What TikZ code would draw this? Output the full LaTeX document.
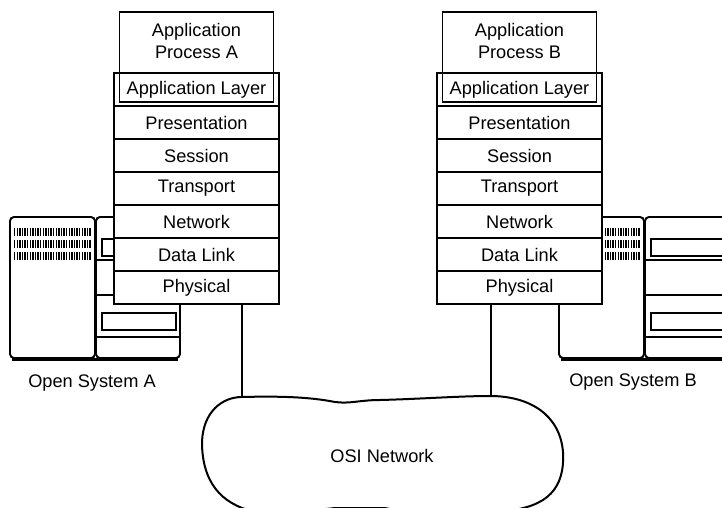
\documentclass[tikz,border=0pt]{standalone}
\usepackage{fontspec}
\setmainfont{Liberation Sans}
\usetikzlibrary{positioning}

\tikzset{
  layer/.style={draw, fill=white, minimum width=82.5pt, minimum height=16.5pt, inner sep=0pt, outer sep=0pt},
  procbox/.style={draw, minimum width=77pt, minimum height=45pt, inner sep=0pt, outer sep=0pt},
  vent/.style={line width=4pt, dash pattern=on 0.7pt off 0.6pt},
}

\begin{document}
\begin{tikzpicture}[x=0.5pt, y=-0.5pt, line width=0.95pt, every node/.style={font=\fontsize{9.1}{11}\selectfont}]

\useasboundingbox (0,0) rectangle (722,508);

% the two cabinets, B is the same box moved right
\foreach \dx in {0,549} {
\begin{scope}[shift={(\dx,0)}]
\draw [rounded corners=2pt] (10,217) rectangle (95,358);
\draw [rounded corners=2pt] (96,217) rectangle (180,358);
\draw [line width=1.6pt] (12,359.5) -- (178,359.5);
\draw [vent] (14,232) -- (91,232);
\draw [vent] (14,244) -- (91,244);
\draw [vent] (14,256) -- (91,256);
\draw (96,260) -- (180,260);
\draw (96,295) -- (180,295);
\draw (96,337) -- (180,337);
\draw (102,239) rectangle (176,256); %drive slot
\draw (102,313) rectangle (176,330); %drive slot
\end{scope}
}

% stack A
\node [layer] (applA) at (196.5,89.5) {Application Layer};
\node [layer, below=0pt of applA] (presA) {Presentation};
\node [layer, below=0pt of presA] (sessA) {Session};
\node [layer, below=0pt of sessA] (tranA) {Transport};
\node [layer, below=0pt of tranA] (netwA) {Network};
\node [layer, below=0pt of netwA] (dlinkA) {Data Link};
\node [layer, below=0pt of dlinkA] (phyA) {Physical};
\node [procbox] (procA) at (196.5,57) {};
\node [align=center] (procAtext) at (196.5,41) {Application\\Process A};

% stack B
\node [layer] (applB) at (519.5,89.5) {Application Layer};
\node [layer, below=0pt of applB] (presB) {Presentation};
\node [layer, below=0pt of presB] (sessB) {Session};
\node [layer, below=0pt of sessB] (tranB) {Transport};
\node [layer, below=0pt of tranB] (netwB) {Network};
\node [layer, below=0pt of netwB] (dlinkB) {Data Link};
\node [layer, below=0pt of dlinkB] (phyB) {Physical};
\node [procbox] (procB) at (519.5,57) {};
\node [align=center] (procBtext) at (519.5,41) {Application\\Process B};

\node (sysA) at (92,383) {Open System A};
\node (sysB) at (633,382) {Open System B};

% network cloud, its lower edge runs off the page
\draw [line width=1pt] (242,397) .. controls (280,396) and (310,397) .. (335,402)
  .. controls (350,404) and (360,400) .. (380,400)
  .. controls (420,399) and (460,396) .. (490,396)
  .. controls (530,396) and (560,415) .. (563,452)
  .. controls (565,488) and (548,507) .. (505,511)
  .. controls (460,515) and (400,512) .. (385,508)
  -- (335,508)
  .. controls (300,512) and (270,514) .. (248,510)
  .. controls (215,500) and (202,475) .. (202,442)
  .. controls (203,412) and (222,397) .. (242,397) -- cycle;
\node (osi) at (382,456) {OSI Network};
\coordinate (netA) at (242,397);
\coordinate (netB) at (491,396);

\draw (phyA.south -| netA) -- (netA);
\draw (phyB.south -| netB) -- (netB);

\end{tikzpicture}
\end{document}
